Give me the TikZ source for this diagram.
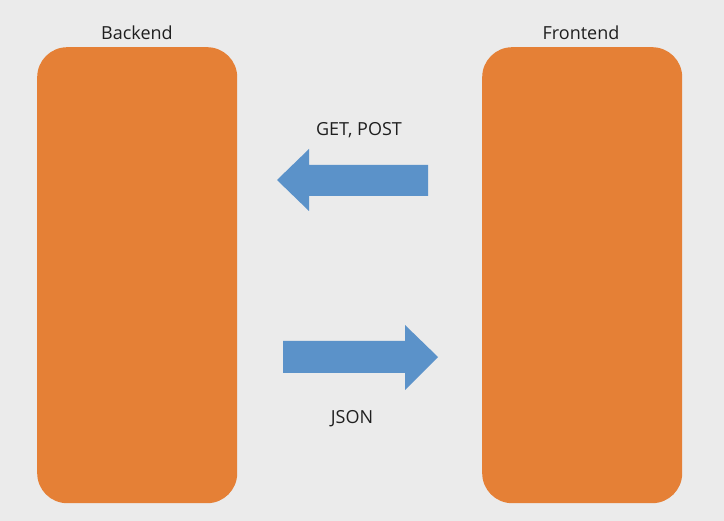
\documentclass[tikz,border=0pt]{standalone}
\usepackage{fontspec}
\setmainfont{Open Sans}
\definecolor{bg}{RGB}{235,235,235}
\definecolor{boxorange}{RGB}{229,128,54}
\definecolor{arrowblue}{RGB}{91,146,201}
\begin{document}
\begin{tikzpicture}[x=1pt,y=-1pt,
  box/.style={fill=boxorange, draw=none, rounded corners=30pt, minimum width=200pt, minimum height=456pt, anchor=north west, inner sep=0pt},
  lbl/.style={font=\fontsize{18}{21}\selectfont, text=black!88, inner sep=0pt},
  blockarrow/.style={fill=arrowblue}]
\fill[bg] (0,0) rectangle (724,521);
\useasboundingbox (0,0) rectangle (724,521);
\node[box] (backend) at (37,47) {};
\node[box] (frontend) at (482,47) {};
\node[lbl] (backendlbl) at (137,33) {Backend};
\node[lbl] (frontendlbl) at (581,33) {Frontend};
\node[lbl] (getpost) at (359,130) {GET, POST};
\node[lbl] (json) at (352,419) {JSON};
% request arrow (frontend -> backend)
\fill[blockarrow] (428,165) -- (309,165) -- (309,149) -- (277,180) -- (309,211) -- (309,196) -- (428,196) -- cycle;
% response arrow (backend -> frontend)
\fill[blockarrow] (283,341) -- (405,341) -- (405,325) -- (438,357) -- (405,390) -- (405,373) -- (283,373) -- cycle;
\end{tikzpicture}
\end{document}
